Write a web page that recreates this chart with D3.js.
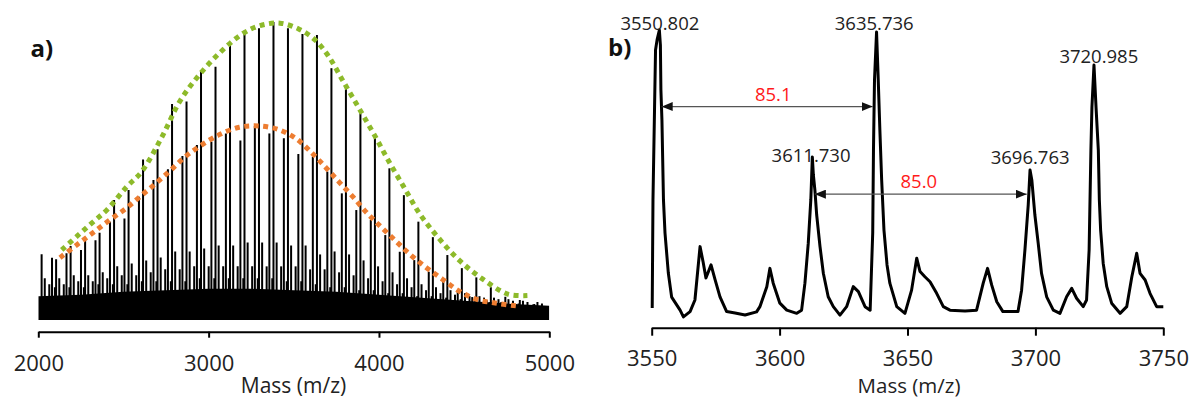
<!DOCTYPE html>
<html><head><meta charset="utf-8">
<script src="https://cdn.jsdelivr.net/npm/d3@7"></script>
<style>
body{margin:0;background:#fff}
svg{display:block}
text{font-family:"Open Sans",sans-serif}
</style>
</head><body>
<svg id="c" width="1192" height="398"></svg>
<script>
// ---------- Panel a data (m/z, relative intensity %) ----------
const aTicks = [2000, 3000, 4000, 5000];
const aMajorMass = [2019.5,2104.6,2189.7,2274.8,2359.8,2444.9,2530.0,2615.0,2700.1,2785.2,2870.2,2955.3,3040.4,3125.5,3210.5,3295.6,3380.7,3465.7,3550.8,3635.9,3720.9,3806.0,3891.1,3976.2,4061.2,4146.3,4231.4,4316.4,4401.5,4486.6,4571.6,4656.7,4741.8,4826.9,4911.9];
const aMajorInt  = [22.1,20.4,24.8,27.4,29.3,40.3,43.6,53.9,57.3,72.5,73.3,83.7,85.0,93.1,97.1,97.9,100,97.9,96.0,95.6,84.5,78.3,69.4,61.0,50.9,41.9,33.0,27.8,21.8,17.4,14.3,11.0,7.8,6.7,5.4];
const aMinorMass = [2080.5,2165.5,2250.6,2335.7,2420.7,2505.8,2590.9,2676.0,2761.0,2846.1,2931.2,3016.2,3101.3,3186.4,3271.4,3356.5,3441.6,3526.7,3611.7,3696.8,3781.9,3866.9,3952.0,4037.1,4122.1,4207.2,4292.3,4377.4,4462.4,4547.5,4632.6,4717.6,4802.7];
const aMinorInt  = [20.9,22.4,23.5,26.8,33.0,34.1,41.4,47.0,50.6,55.0,58.7,59.8,62.6,60.2,65.1,62.6,61.0,55.7,54.8,49.8,42.5,36.9,33.6,28.5,22.9,20.1,16.2,12.9,10.1,7.7,6.7,6.0,5.4];
const aSat1Mass = [2038.0,2123.1,2208.2,2293.3,2378.3,2463.4,2548.5,2633.5,2718.6,2803.7,2888.7,2973.8,3058.9,3144.0,3229.0,3314.1,3399.2,3484.2,3569.3,3654.4,3739.4,3824.5,3909.6,3994.7,4079.7,4164.8,4249.9,4334.9,4420.0,4505.1,4590.1,4675.2,4760.3,4845.4,4930.4];
const aSat1Int  = [14,14,15,15,16,18,19,20,21,23,23,24,25,25,26,26,26,25,25,22,23,22,20,18,16,14,12,11,10,9,8,7.5,7,6.5,6];
const aSat2Mass = [2064.5,2149.6,2234.7,2319.8,2404.8,2489.9,2575.0,2660.0,2745.1,2830.2,2915.2,3000.3,3085.4,3170.5,3255.5,3340.6,3425.7,3510.7,3595.8,3680.9,3765.9,3851.0,3936.1,4021.2,4106.2,4191.3,4276.4,4361.4,4446.5,4531.6,4616.6,4701.7,4786.8,4871.9,4956.9];
const aSat2Int  = [12,12,13,13,14,15,15,16,17,17,18,18,18,18,18,18,18,18,17,17,16,15,14,13,12,11,10,9,8.5,8,7.5,7,6.5,6,5.5];
const aSat3Mass = [2097.5,2182.6,2267.7,2352.8,2437.8,2522.9,2608.0,2693.0,2778.1,2863.2,2948.2,3033.3,3118.4,3203.5,3288.5,3373.6,3458.7,3543.7,3628.8,3713.9,3798.9,3884.0,3969.1,4054.2,4139.2,4224.3,4309.4,4394.4,4479.5,4564.6,4649.6,4734.7,4819.8,4904.9];
const aSat3Int  = [11,11,11,12,12,12,13,13,13,13,14,14,14,14,14,14,13,13,12,11,11,10,10,9,9,8,8,7.5,7,6.5,6,6,5.5,5.2];
const aBandMass = [2000,2250,2500,2750,3000,3250,3500,3750,4000,4250,4500,4750,5000];
const aBandTop  = [8,8.5,9.5,10,10.5,10.5,10,9.5,8.5,7.5,6.5,5.5,4.8];
const aGreenMass = [2137.4,2229.0,2317.1,2405.2,2519.1,2607.2,2724.6,2832.1,2939.5,3056.9,3194.4,3301.8,3419.3,3530.8,3624.8,3702.9,3791.0,3883.2,3973.0,4059.3,4147.4,4237.2,4348.8,4470.3,4607.2,4756.3,4871.4];
const aGreenInt  = [23.5,28.2,32.7,37.1,44.7,49.8,61.3,73.5,81.9,89.2,95.9,98.8,99.6,97.6,94.0,88.6,80.0,71.0,62.1,53.1,44.5,35.8,27.6,20.1,13.8,8.7,8.2];
const aOrangeMass = [2127.4,2225.5,2317.1,2411.0,2509.1,2597.2,2691.1,2777.5,2867.3,2968.9,3067.0,3180.3,3297.7,3415.2,3517.3,3605.4,3687.6,3767.5,3846.2,3928.4,4010.6,4098.7,4182.6,4274.8,4372.3,4470.3,4574.3,4691.7,4812.7];
const aOrangeInt  = [20.9,25.2,29.1,33.2,37.2,41.4,45.9,50.3,55.0,59.1,62.3,64.7,65.1,63.8,60.7,56.1,51.2,46.2,41.4,36.0,31.3,26.5,22.0,17.7,13.7,9.7,6.9,5.6,4.7];

// ---------- Panel b data ----------
const bTicks = [3550, 3600, 3650, 3700, 3750];
const bMass = [3550.2,3550.5,3551.1,3551.5,3552.1,3553.0,3553.4,3553.6,3554.0,3554.6,3555.2,3556.5,3557.8,3561.1,3562.4,3565.0,3566.9,3568.9,3570.1,3571.2,3573.2,3574.8,3576.7,3579.3,3582.6,3586.5,3591.0,3592.3,3595.0,3596.2,3597.5,3600.1,3602.8,3606.7,3608.6,3609.9,3611.2,3612.2,3612.8,3613.2,3613.8,3614.5,3615.8,3617.1,3619.0,3621.0,3623.6,3626.2,3628.8,3630.8,3633.4,3635.4,3636.4,3636.7,3637.1,3637.9,3638.5,3639.2,3639.9,3640.8,3642.0,3643.1,3645.8,3649.0,3651.6,3653.6,3654.9,3656.8,3658.8,3661.4,3664.0,3666.6,3672.5,3677.0,3679.6,3681.3,3682.9,3684.9,3687.3,3693.2,3694.6,3695.9,3697.2,3697.9,3698.6,3699.8,3701.1,3702.4,3704.4,3707.0,3709.6,3712.2,3714.2,3716.1,3718.7,3720.0,3721.0,3721.7,3722.1,3722.9,3723.7,3724.6,3725.0,3725.5,3726.5,3727.9,3729.8,3733.1,3735.7,3737.7,3739.6,3740.9,3742.9,3744.8,3747.4,3750.0];
const bInt  = [4.1,41.4,72.4,93.1,96.6,100,94.8,79.3,69.0,41.4,30.0,16.2,7.9,3.4,1.1,2.9,6.9,25.3,20.0,14.5,19.0,13.8,8.0,2.9,2.4,1.7,2.8,4.6,11.5,17.8,12.7,5.8,3.4,2.3,3.4,12.7,26.4,41.4,56.2,50.0,44.8,36.2,25.3,16.1,8.0,4.6,1.7,4.6,11.5,9.8,4.6,3.4,30.0,58.6,82.8,99.3,84.5,65.5,48.3,31.0,19.0,12.7,4.6,2.3,10.3,21.3,16.7,14.9,13.2,9.2,4.6,3.4,3.1,3.4,12.7,17.8,12.1,6.3,2.9,2.9,10.3,24.1,39.7,51.7,48.3,36.2,26.4,16.1,8.0,3.4,2.3,8.0,10.9,7.5,4.6,6.9,24.1,58.6,73.4,87.9,73.4,58.6,41.4,31.0,19.6,11.5,5.8,2.3,4.6,14.9,23.0,16.1,13.8,9.2,4.6,4.6];
const bLabelText = ["3550.802","3635.736","3611.730","3720.985","3696.763"];
const bLabelMass = [3553.2,3637.0,3612.3,3724.8,3697.95];
const bLabelInt  = [100,100,54.6,88.5,53.8];
const bArrowFrom = [3553.9,3613.8];
const bArrowTo   = [3636.4,3696.6];
const bArrowInt  = [73.6,43.4];
const bArrowText = ["85.1","85.0"];

const svg = d3.select("#c");
const defs = svg.append("defs");

// ================= Panel a =================
const xA = d3.scaleLinear().domain([2000,5000]).range([38.3,549.3]);
const yA = d3.scaleLinear().domain([0,100]).range([320,22]);
defs.append("clipPath").attr("id","clipA").append("rect")
  .attr("x",xA(2000)).attr("y",0).attr("width",xA(5000)-xA(2000)).attr("height",340);
const gA = svg.append("g").attr("clip-path","url(#clipA)");

function peaks(mass, ints){
  gA.append("g").selectAll("line").data(d3.zip(mass,ints)).join("line")
    .attr("x1",d=>xA(d[0])).attr("x2",d=>xA(d[0]))
    .attr("y1",yA(0)).attr("y2",d=>yA(d[1]))
    .attr("stroke","#000").attr("stroke-width",2);
}
peaks(aSat3Mass,aSat3Int);
peaks(aSat2Mass,aSat2Int);
peaks(aSat1Mass,aSat1Int);
peaks(aMinorMass,aMinorInt);
peaks(aMajorMass,aMajorInt);

gA.append("path").datum(d3.zip(aBandMass,aBandTop))
  .attr("fill","#000")
  .attr("d", d3.area().x(d=>xA(d[0])).y0(yA(0)).y1(d=>yA(d[1])));

const envLine = d3.line().x(d=>xA(d[0])).y(d=>yA(d[1])).curve(d3.curveCatmullRom);
svg.append("path").datum(d3.zip(aGreenMass,aGreenInt))
  .attr("d",envLine).attr("fill","none").attr("stroke","#8DBA2A")
  .attr("stroke-width",5).attr("stroke-dasharray","5,4.5");
svg.append("path").datum(d3.zip(aOrangeMass,aOrangeInt))
  .attr("d",envLine).attr("fill","none").attr("stroke","#ED7D31")
  .attr("stroke-width",5).attr("stroke-dasharray","5,4.5");

const axA = svg.append("g").attr("transform","translate(0,331.7)")
  .call(d3.axisBottom(xA).tickValues(aTicks).tickSize(6).tickSizeOuter(0).tickFormat(d3.format("d")));
axA.select(".domain").attr("stroke","#000").attr("stroke-width",2);
axA.selectAll(".tick line").attr("stroke","#000").attr("stroke-width",2);
axA.selectAll(".tick text").attr("y",39).attr("dy",null)
  .style("font-family","'Open Sans',sans-serif").style("font-size","22px").attr("fill","#222");
svg.append("text").attr("x",293.5).attr("y",392.5).attr("text-anchor","middle")
  .style("font-size","21px").attr("fill","#222").text("Mass (m/z)");
svg.append("text").attr("x",30.5).attr("y",56.5)
  .style("font-size","24px").style("font-weight","bold").attr("fill","#111").text("a)");

// ================= Panel b =================
const xB = d3.scaleLinear().domain([3550,3750]).range([651.7,1163.3]);
const yB = d3.scaleLinear().domain([0,100]).range([320,30]);

svg.append("path").datum(d3.zip(bMass,bInt))
  .attr("d", d3.line().x(d=>xB(d[0])).y(d=>yB(d[1])))
  .attr("fill","none").attr("stroke","#000").attr("stroke-width",3)
  .attr("stroke-linejoin","round");

const axB = svg.append("g").attr("transform","translate(0,327.7)")
  .call(d3.axisBottom(xB).tickValues(bTicks).tickSize(8).tickSizeOuter(0).tickFormat(d3.format("d")));
axB.select(".domain").attr("stroke","#000").attr("stroke-width",2);
axB.selectAll(".tick line").attr("stroke","#000").attr("stroke-width",2);
axB.selectAll(".tick text").attr("y",38.5).attr("dy",null)
  .style("font-family","'Open Sans',sans-serif").style("font-size","22px").attr("fill","#222");
svg.append("text").attr("x",909).attr("y",393).attr("text-anchor","middle")
  .style("font-size","20.5px").attr("fill","#222").text("Mass (m/z)");
svg.append("text").attr("x",608).attr("y",56)
  .style("font-size","24px").style("font-weight","bold").attr("fill","#111").text("b)");

// peak labels
svg.append("g").selectAll("text").data(d3.range(bLabelText.length)).join("text")
  .attr("x",i=>xB(bLabelMass[i])).attr("y",i=>yB(bLabelInt[i]))
  .attr("text-anchor","middle").style("font-size","18.5px").attr("fill","#222")
  .text(i=>bLabelText[i]);

// arrows
const mk = (id, d) => defs.append("marker").attr("id",id)
  .attr("markerUnits","userSpaceOnUse").attr("markerWidth",12).attr("markerHeight",10)
  .attr("refX", id==="ahE"?11:0).attr("refY",4.5).attr("orient","0")
  .append("path").attr("d",d).attr("fill","#111");
mk("ahE","M0,0 L11,4.5 L0,9 Z");
mk("ahS","M11,0 L0,4.5 L11,9 Z");
const gArr = svg.append("g");
gArr.selectAll("line").data(d3.range(bArrowFrom.length)).join("line")
  .attr("x1",i=>xB(bArrowFrom[i])).attr("x2",i=>xB(bArrowTo[i]))
  .attr("y1",i=>yB(bArrowInt[i])).attr("y2",i=>yB(bArrowInt[i]))
  .attr("stroke","#555").attr("stroke-width",1.3)
  .attr("marker-start","url(#ahS)").attr("marker-end","url(#ahE)");
gArr.selectAll("text").data(d3.range(bArrowFrom.length)).join("text")
  .attr("x",i=>(xB(bArrowFrom[i])+xB(bArrowTo[i]))/2 + (i===0?6:-2))
  .attr("y",i=>yB(bArrowInt[i]) - 6)
  .attr("text-anchor","middle").style("font-size","18.5px").attr("fill","#FF1A1A")
  .text(i=>bArrowText[i]);
</script>
</body></html>
